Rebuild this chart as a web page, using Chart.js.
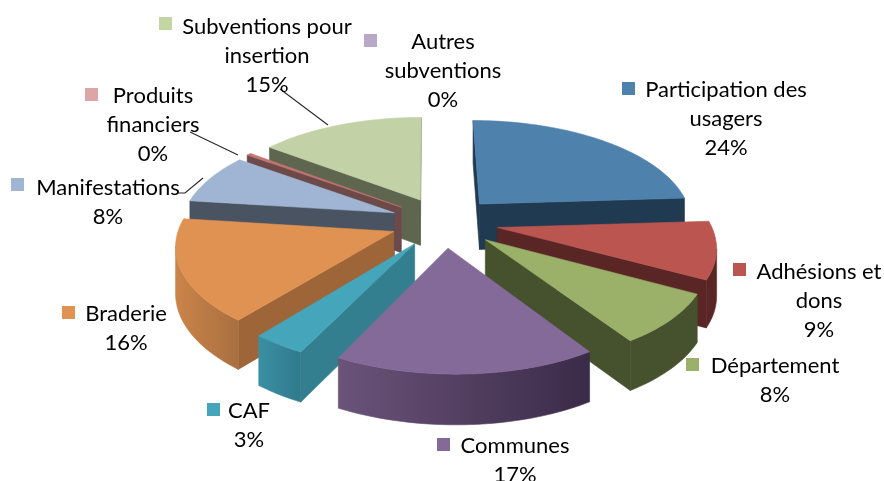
<!DOCTYPE html>
<html lang="fr">
<head>
<meta charset="utf-8">
<title>Répartition des ressources</title>
<script src="https://cdn.jsdelivr.net/npm/chart.js@4"></script>
<style>
  html, body { margin: 0; background: #fff; }
  canvas { display: block; filter: blur(0.5px); }
</style>
</head>
<body>
<canvas id="ressourcesChart" width="884" height="481"></canvas>
<script>
// Valeurs (en %)
const categories = ['Participation des usagers', 'Adhésions et dons', 'Département', 'Communes', 'CAF',
  'Braderie', 'Manifestations', 'Produits financiers', 'Subventions pour insertion', 'Autres subventions'];
const valeurs = [24, 9, 8, 16.6, 3.4, 16, 8, 0.4, 14.6, 0];

// Couleurs : dessus, faces coupées, paroi extérieure (gauche / droite), légende
const couleurs = ['#4f81ad', '#bb5550', '#9bb068', '#836a99', '#45a5ba', '#e09252', '#9fb5d3', '#c4736f', '#c2d1a6', '#b8a9c9'];
const couleursFace = ['#203a52', '#5a2525', '#46512d', '#3f3049', '#337f90', '#9e6538', '#4a5362', '#6d4a4a', '#5e6650', '#665a70'];
const paroiGauche = ['#203a52', '#5a2525', '#46512d', '#6b5379', '#3b8fa2', '#cb8449', '#4a5362', '#6d4a4a', '#5e6650', '#665a70'];
const paroiDroite = ['#203a52', '#5a2525', '#46512d', '#3a2b48', '#2f7a8c', '#a86f40', '#4a5362', '#6d4a4a', '#5e6650', '#665a70'];
const couleursLegende = ['#4f81ad', '#bb5550', '#9bb068', '#836a99', '#45a5ba', '#e09252', '#9fb5d3', '#dba6a5', '#c3d5a3', '#b8a9c9'];

// Lignes d'étiquette, centre du texte, position du carré de légende
const etiquettes = [
  { lignes: ['Participation des', 'usagers'], x: 726, y: 90, carre: [622, 82] },
  { lignes: ['Adhésions et', 'dons'], x: 819, y: 272, carre: [733, 263] },
  { lignes: ['Département'], x: 775, y: 366, carre: [686, 358] },
  { lignes: ['Communes'], x: 515, y: 446, carre: [437, 438] },
  { lignes: ['CAF'], x: 249, y: 411, carre: [207, 403] },
  { lignes: ['Braderie'], x: 126, y: 314, carre: [62, 306] },
  { lignes: ['Manifestations'], x: 108, y: 188, carre: [11, 178] },
  { lignes: ['Produits', 'financiers'], x: 153, y: 96, carre: [85, 88] },
  { lignes: ['Subventions pour', 'insertion'], x: 267, y: 27, carre: [159, 17] },
  { lignes: ['Autres', 'subventions'], x: 443, y: 42, carre: [364, 34] }
];
const traits = [
  [[280, 89], [328, 125]],
  [[190, 132], [238, 155]],
  [[178, 193], [185, 193], [203, 178]]
];

// Perspective du camembert 3D
const CENTRE_X = 444, CENTRE_Y = 222;
const RAYON_X = 213, RAYON_Y = 100, PERSPECTIVE = 0.141, EPAISSEUR = 46;
const BIAIS_AVANT = 6, BIAIS_ARRIERE = 2.5;

function versEcran(u, v, z) {
  const w = 1 - PERSPECTIVE * v;
  const biais = v > 0 ? BIAIS_AVANT : BIAIS_ARRIERE;
  return {
    x: CENTRE_X + (RAYON_X * u + biais * v) / w,
    y: CENTRE_Y + RAYON_Y * v / w + z / Math.sqrt(w)
  };
}

function remplir(ctx, points, couleur) {
  ctx.beginPath();
  points.forEach((p, i) => (i ? ctx.lineTo(p.x, p.y) : ctx.moveTo(p.x, p.y)));
  ctx.closePath();
  ctx.fillStyle = couleur;
  ctx.strokeStyle = couleur;
  ctx.lineWidth = 0.6;
  ctx.fill();
  ctx.stroke();
}

// Visible si le quadrilatère tourne dans le sens "face à nous"
function faceVisible(q) {
  let aire = 0;
  q.forEach((p, i) => {
    const s = q[(i + 1) % q.length];
    aire += p.x * s.y - s.x * p.y;
  });
  return aire < 0;
}

const camembert3d = {
  id: 'camembert3d',
  beforeDatasetDraw() {
    return false; // les parts sont dessinées en 3D ci-dessous
  },
  afterDatasetsDraw(chart) {
    const ctx = chart.ctx;
    const arcs = chart.getDatasetMeta(0).data
      .map((arc, index) => ({ arc, index, milieu: (arc.startAngle + arc.endAngle) / 2 }))
      .filter(p => p.arc.endAngle > p.arc.startAngle)
      .sort((a, b) => Math.sin(a.milieu) - Math.sin(b.milieu));

    arcs.forEach(({ arc, index, milieu }) => {
      const e = arc.options.offset / arc.outerRadius;
      const u0 = Math.cos(milieu) * e, v0 = Math.sin(milieu) * e;
      const haut = [], bas = [];
      const pas = Math.max(1, Math.ceil((arc.endAngle - arc.startAngle) / 0.03));
      for (let i = 0; i <= pas; i++) {
        const a = arc.startAngle + (arc.endAngle - arc.startAngle) * i / pas;
        haut.push(versEcran(u0 + Math.cos(a), v0 + Math.sin(a), 0));
        bas.push(versEcran(u0 + Math.cos(a), v0 + Math.sin(a), EPAISSEUR));
      }
      const apex = versEcran(u0, v0, 0), apexBas = versEcran(u0, v0, EPAISSEUR);

      const faceDebut = [apex, haut[0], bas[0], apexBas];
      const faceFin = [haut[pas], apex, apexBas, bas[pas]];
      if (faceVisible(faceDebut)) remplir(ctx, faceDebut, couleursFace[index]);
      if (faceVisible(faceFin)) remplir(ctx, faceFin, couleursFace[index]);

      // Paroi extérieure : un seul polygone avec un dégradé horizontal
      const dessus = [], dessous = [];
      for (let i = 0; i < pas; i++) {
        if (!faceVisible([haut[i], haut[i + 1], bas[i + 1], bas[i]])) continue;
        if (!dessus.length) { dessus.push(haut[i]); dessous.push(bas[i]); }
        dessus.push(haut[i + 1]);
        dessous.push(bas[i + 1]);
      }
      if (dessus.length) {
        const xs = dessus.map(p => p.x);
        const degrade = ctx.createLinearGradient(Math.min(...xs), 0, Math.max(...xs), 0);
        degrade.addColorStop(0, paroiGauche[index]);
        degrade.addColorStop(1, paroiDroite[index]);
        remplir(ctx, [...dessus, ...dessous.reverse()], degrade);
      }
      remplir(ctx, [apex, ...haut], couleurs[index]);
    });

    // Traits de rappel
    ctx.strokeStyle = '#2b2b2b';
    ctx.lineWidth = 1.2;
    traits.forEach(t => {
      ctx.beginPath();
      t.forEach((p, i) => (i ? ctx.lineTo(p[0], p[1]) : ctx.moveTo(p[0], p[1])));
      ctx.stroke();
    });

    // Étiquettes
    ctx.font = '22px Lato';
    ctx.textAlign = 'center';
    ctx.textBaseline = 'middle';
    etiquettes.forEach((et, i) => {
      ctx.fillStyle = couleursLegende[i];
      ctx.fillRect(et.carre[0], et.carre[1], 13, 13);
      ctx.fillStyle = '#000';
      const lignes = [...et.lignes, Math.round(valeurs[i]) + '%'];
      lignes.forEach((l, n) => ctx.fillText(l, et.x, et.y + n * 29));
    });
  }
};

new Chart(document.getElementById('ressourcesChart'), {
  type: 'pie',
  data: {
    labels: categories,
    datasets: [{ data: valeurs, backgroundColor: couleurs, borderWidth: 0, offset: 54 }]
  },
  options: {
    responsive: false,
    animation: false,
    plugins: { legend: { display: false }, tooltip: { enabled: false } }
  },
  plugins: [camembert3d]
});
</script>
</body>
</html>
